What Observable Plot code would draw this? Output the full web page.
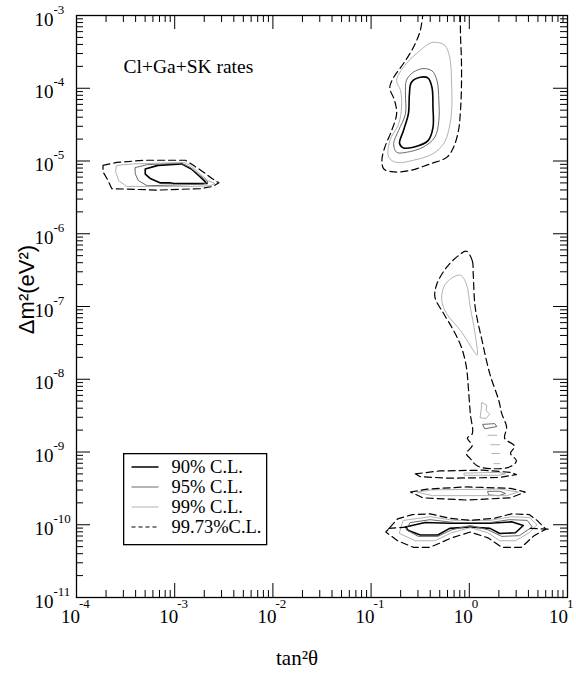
<!DOCTYPE html>
<html><head><meta charset="utf-8">
<script src="https://cdn.jsdelivr.net/npm/d3@7"></script>
<script src="https://cdn.jsdelivr.net/npm/@observablehq/plot@0.6"></script>
<style>
body{margin:0;background:#fff;}
#wrap{position:relative;width:576px;height:674px;overflow:hidden;}
#legend{position:absolute;left:123px;top:453px;}
</style></head><body><div id="wrap"></div>
<script>
// ---- tick / label data ----
const xDecades = [-4, -3, -2, -1, 0, 1];
const yDecades = [-11, -10, -9, -8, -7, -6, -5, -4, -3];
const levelNames = ["90% C.L.", "95% C.L.", "99% C.L.", "99.73%C.L."];
const titleText = "Cl+Ga+SK rates";
const xTitle = "tan\u00B2\u03B8";
const yTitle = "\u0394m\u00B2(eV\u00B2)";

// ---- contour data: [log10 tan^2(theta), log10 dm^2] ----
// SMA region
const sma90 = [[-3.30,-5.11],[-3.17,-5.06],[-2.93,-5.04],[-2.83,-5.11],[-2.74,-5.22],[-2.67,-5.31],[-3.01,-5.31],[-3.05,-5.30],[-3.15,-5.30],[-3.25,-5.24],[-3.30,-5.18]];
const sma95 = [[-3.40,-5.09],[-3.28,-5.05],[-2.93,-5.03],[-2.84,-5.09],[-2.74,-5.20],[-2.66,-5.29],[-2.71,-5.32],[-3.28,-5.34],[-3.37,-5.27],[-3.40,-5.18]];
const sma99 = [[-3.59,-5.06],[-3.42,-5.04],[-2.91,-5.02],[-2.84,-5.06],[-2.74,-5.18],[-2.66,-5.27],[-2.59,-5.31],[-2.64,-5.34],[-2.84,-5.35],[-3.49,-5.35],[-3.57,-5.27],[-3.60,-5.15]];
const sma9973 = [[-3.73,-5.06],[-3.59,-5.02],[-3.32,-4.99],[-2.89,-4.99],[-2.81,-5.06],[-2.71,-5.15],[-2.62,-5.24],[-2.55,-5.30],[-2.61,-5.35],[-2.74,-5.38],[-3.18,-5.40],[-3.64,-5.38],[-3.69,-5.24],[-3.73,-5.15]];
// LMA region
const lma90 = [[-0.50,-3.85],[-0.42,-3.86],[-0.38,-3.99],[-0.37,-4.26],[-0.37,-4.54],[-0.42,-4.72],[-0.57,-4.81],[-0.67,-4.82],[-0.71,-4.76],[-0.67,-4.58],[-0.62,-4.35],[-0.61,-4.08],[-0.59,-3.92]];
const lma95 = [[-0.47,-3.73],[-0.38,-3.76],[-0.33,-3.89],[-0.31,-4.17],[-0.31,-4.44],[-0.35,-4.67],[-0.47,-4.81],[-0.64,-4.88],[-0.74,-4.88],[-0.77,-4.76],[-0.72,-4.58],[-0.65,-4.35],[-0.65,-4.08],[-0.64,-3.89],[-0.57,-3.78]];
const lma99 = [[-0.33,-3.37],[-0.25,-3.41],[-0.20,-3.57],[-0.18,-3.94],[-0.18,-4.31],[-0.21,-4.58],[-0.26,-4.76],[-0.37,-4.90],[-0.57,-4.99],[-0.74,-5.02],[-0.82,-4.95],[-0.81,-4.72],[-0.72,-4.49],[-0.69,-4.26],[-0.70,-4.03],[-0.74,-3.89],[-0.64,-3.66],[-0.50,-3.48],[-0.40,-3.38]];
const lma9973 = [[-0.47,-2.95],[-0.50,-3.21],[-0.57,-3.44],[-0.67,-3.66],[-0.77,-3.85],[-0.81,-3.99],[-0.76,-4.17],[-0.74,-4.35],[-0.79,-4.58],[-0.86,-4.81],[-0.89,-4.99],[-0.87,-5.11],[-0.77,-5.15],[-0.60,-5.13],[-0.40,-5.04],[-0.23,-4.95],[-0.16,-4.81],[-0.11,-4.58],[-0.09,-4.31],[-0.08,-3.99],[-0.08,-3.62],[-0.09,-3.25],[-0.09,-2.95]];
// LOW region
const low99 = [[-0.09,-6.57],[-0.03,-6.69],[0.01,-7.01],[0.06,-7.38],[0.08,-7.67],[0.04,-7.60],[-0.09,-7.33],[-0.23,-7.10],[-0.28,-6.92],[-0.26,-6.73],[-0.18,-6.61]];
const low9973 = [[-0.03,-6.24],[0.03,-6.37],[0.04,-6.55],[0.06,-7.01],[0.13,-7.47],[0.21,-7.93],[0.30,-8.29],[0.33,-8.47],[0.38,-8.66],[0.36,-8.81],[0.46,-8.92],[0.42,-9.02],[0.48,-9.12],[0.42,-9.20],[0.24,-9.23],[0.08,-9.19],[0.01,-9.09],[-0.03,-9.02],[0.03,-8.91],[-0.02,-8.81],[0.03,-8.75],[0.01,-8.47],[-0.01,-8.11],[-0.03,-7.83],[-0.08,-7.56],[-0.16,-7.33],[-0.26,-7.10],[-0.35,-6.87],[-0.33,-6.69],[-0.23,-6.46],[-0.11,-6.30]];
const lowIsland99 = [[0.13,-8.32],[0.18,-8.36],[0.17,-8.43],[0.21,-8.48],[0.17,-8.54],[0.11,-8.53],[0.12,-8.43]];
const lowIsland95 = [[0.14,-8.62],[0.26,-8.61],[0.28,-8.65],[0.16,-8.68]];
const lowBits99 = [[[0.19,-8.77],[0.28,-8.77]],[[0.22,-8.90],[0.31,-8.90]],[[0.23,-9.02],[0.31,-9.02]],[[0.25,-9.16],[0.31,-9.16]]];
// bands near 5e-10 and 3e-10
const band1_99 = [[-0.05,-9.29],[0.30,-9.28],[0.37,-9.30],[0.30,-9.32],[-0.05,-9.32]];
const band1_9973 = [[-0.55,-9.30],[-0.30,-9.26],[0.14,-9.25],[0.42,-9.28],[0.48,-9.31],[0.31,-9.35],[-0.20,-9.36],[-0.50,-9.34]];
const band2_95 = [[0.19,-9.54],[0.31,-9.54],[0.37,-9.57],[0.30,-9.60],[0.20,-9.59]];
const band2_99 = [[-0.53,-9.55],[-0.37,-9.52],[0.31,-9.51],[0.50,-9.55],[0.38,-9.60],[-0.37,-9.60]];
const band2_9973 = [[-0.60,-9.55],[-0.43,-9.51],[-0.03,-9.48],[0.42,-9.50],[0.57,-9.55],[0.42,-9.63],[-0.03,-9.66],[-0.47,-9.63]];
// region near 1e-10
const vac90 = [[-0.65,-10.03],[-0.45,-9.97],[-0.20,-9.98],[0.21,-9.98],[0.43,-9.96],[0.55,-10.01],[0.47,-10.11],[0.31,-10.12],[0.21,-10.05],[0.01,-10.03],[-0.20,-10.05],[-0.32,-10.14],[-0.50,-10.14],[-0.62,-10.08]];
const vac95 = [[-0.60,-9.97],[-0.40,-9.93],[-0.15,-9.97],[0.21,-9.97],[0.41,-9.93],[0.59,-9.94],[0.64,-10.03],[0.51,-10.15],[0.33,-10.16],[0.19,-10.07],[0.01,-10.01],[-0.18,-10.07],[-0.32,-10.16],[-0.52,-10.16],[-0.64,-10.07]];
const vac99 = [[-0.67,-9.94],[-0.40,-9.89],[-0.15,-9.94],[0.21,-9.94],[0.43,-9.89],[0.61,-9.90],[0.69,-10.00],[0.61,-10.11],[0.47,-10.22],[0.31,-10.22],[0.19,-10.11],[0.01,-10.04],[-0.18,-10.11],[-0.35,-10.22],[-0.55,-10.22],[-0.71,-10.12]];
const vac9973 = [[-0.81,-10.04],[-0.73,-9.92],[-0.58,-9.86],[-0.40,-9.85],[-0.20,-9.91],[0.01,-9.94],[0.26,-9.91],[0.43,-9.85],[0.61,-9.86],[0.69,-9.94],[0.78,-10.06],[0.66,-10.15],[0.53,-10.31],[0.33,-10.31],[0.19,-10.18],[0.01,-10.10],[-0.18,-10.18],[-0.40,-10.31],[-0.57,-10.31],[-0.73,-10.22],[-0.85,-10.10]];
const vacBits9973 = [[[-0.82,-10.05],[-0.62,-10.03]],[[0.62,-10.05],[0.82,-10.06]]];

// ---- grouping ----
const smoothClosed = [
  [lma90],
  [lma95],
  [lma99, low99],
  [low9973]
];
const plainClosed = [
  [sma90, vac90],
  [sma95, lowIsland95, band2_95, vac95],
  [sma99, lowIsland99, band1_99, band2_99, vac99],
  [sma9973, band1_9973, band2_9973, vac9973]
];
const openByLevel = [[], [], lowBits99, vacBits9973];
const smoothOpen = [[], [], [], [lma9973]];

const styles = [
  {stroke: "#000", strokeWidth: 1.6},
  {stroke: "#6a6a6a", strokeWidth: 1},
  {stroke: "#b2b2b2", strokeWidth: 1},
  {stroke: "#000", strokeWidth: 1.2, strokeDasharray: "7,4"}
];
const legendDash = [null, null, null, "4,3"];

function toRows(list) {
  return list.flatMap((pts, i) => pts.map(([a, b]) => ({id: i, x: 10 ** a, y: 10 ** b})));
}

const W = 576, H = 674, mL = 76, mR = 9, mT = 15, mB = 77;
const fw = W - mL - mR, fh = H - mT - mB;
const serif = '"Liberation Serif","Times New Roman",serif';
const sans = '"Liberation Sans",Arial,sans-serif';
const isDecade = v => Math.abs(Math.log10(v) - Math.round(Math.log10(v))) < 1e-6;
const xMajor = xDecades.map(d => 10 ** d);
const yMajor = yDecades.map(d => 10 ** d);
const xMinor = d3.scaleLog().domain([1e-4, 10]).ticks().filter(v => !isDecade(v));
const yMinor = d3.scaleLog().domain([1e-11, 1e-3]).ticks().filter(v => !isDecade(v));
const xInner = xDecades.slice(0, -1), xLast = xDecades.slice(-1);

const contourMarks = [];
styles.forEach((s, k) => {
  const common = {x: "x", y: "y", z: "id", strokeLinejoin: "round", clip: true, ...s};
  if (smoothClosed[k].length) contourMarks.push(Plot.line(toRows(smoothClosed[k]), {...common, curve: "catmull-rom-closed"}));
  if (plainClosed[k].length) contourMarks.push(Plot.line(toRows(plainClosed[k]), {...common, curve: "linear-closed"}));
  if (openByLevel[k].length) contourMarks.push(Plot.line(toRows(openByLevel[k]), {...common, curve: "linear"}));
  if (smoothOpen[k].length) contourMarks.push(Plot.line(toRows(smoothOpen[k]), {...common, curve: "catmull-rom"}));
});

const tf = {fontFamily: serif, fill: "#000", lineAnchor: "middle"};
const xLabel = (arr, shift) => [
  Plot.text(arr, {x: d => 10 ** d, text: () => "10", frameAnchor: "bottom", textAnchor: "end", dx: 3.5 + shift, dy: 19.5, fontSize: 19, ...tf}),
  Plot.text(arr, {x: d => 10 ** d, text: d => String(d), frameAnchor: "bottom", textAnchor: "start", dx: 2.5 + shift, dy: 6.5, fontSize: 13, ...tf})
];

const chart = Plot.plot({
  width: W, height: H,
  marginLeft: mL, marginRight: mR, marginTop: mT, marginBottom: mB,
  x: {type: "log", domain: [1e-4, 10], axis: null},
  y: {type: "log", domain: [1e-11, 1e-3], axis: null},
  style: {background: "#fff", overflow: "visible"},
  marks: [
    ...contourMarks,
    // ticks, inward on all four sides
    Plot.ruleX(xMajor, {x: d => d, insetTop: fh - 14, stroke: "#000"}),
    Plot.ruleX(xMajor, {x: d => d, insetBottom: fh - 14, stroke: "#000"}),
    Plot.ruleX(xMinor, {x: d => d, insetTop: fh - 7, stroke: "#000"}),
    Plot.ruleX(xMinor, {x: d => d, insetBottom: fh - 7, stroke: "#000"}),
    Plot.ruleY(yMajor, {y: d => d, insetRight: fw - 14, stroke: "#000"}),
    Plot.ruleY(yMajor, {y: d => d, insetLeft: fw - 14, stroke: "#000"}),
    Plot.ruleY(yMinor, {y: d => d, insetRight: fw - 7, stroke: "#000"}),
    Plot.ruleY(yMinor, {y: d => d, insetLeft: fw - 7, stroke: "#000"}),
    Plot.frame({stroke: "#000", strokeWidth: 1.3}),
    // tick labels
    ...xLabel(xInner, 0),
    ...xLabel(xLast, -3),
    Plot.text(yDecades, {y: d => 10 ** d, text: () => "10", frameAnchor: "left", textAnchor: "end", dx: -23, dy: 4, fontSize: 19, ...tf}),
    Plot.text(yDecades, {y: d => 10 ** d, text: d => String(d), frameAnchor: "left", textAnchor: "start", dx: -23, dy: -6, fontSize: 13, ...tf}),
    // titles
    Plot.text([xTitle], {text: d => d, frameAnchor: "bottom", textAnchor: "middle", dx: -25, dy: 61, fontSize: 21, ...tf}),
    Plot.text([yTitle], {text: d => d, frameAnchor: "left", textAnchor: "middle", rotate: -90, dx: -50, dy: -17, fontSize: 22, fontFamily: sans, fill: "#000", lineAnchor: "middle"}),
    Plot.text([titleText], {text: d => d, frameAnchor: "top-left", textAnchor: "start", dx: 47, dy: 51, fontSize: 19.5, ...tf})
  ]
});

const wrap = document.getElementById("wrap");
wrap.appendChild(chart);

// legend overlay inside the plot area
const lg = d3.create("svg").attr("id", "legend").attr("width", 145).attr("height", 93);
lg.append("rect").attr("x", 0.65).attr("y", 0.65).attr("width", 143).attr("height", 91)
  .attr("fill", "#fff").attr("stroke", "#000").attr("stroke-width", 1.3);
levelNames.forEach((name, i) => {
  const s = styles[i];
  const ly = 14 + 20 * i;
  lg.append("line").attr("x1", 8.5).attr("x2", 35.5).attr("y1", ly).attr("y2", ly)
    .attr("stroke", s.stroke).attr("stroke-width", s.strokeWidth === 1.6 ? 1.5 : s.strokeWidth)
    .attr("stroke-dasharray", legendDash[i]);
  lg.append("text").attr("x", 48.5).attr("y", ly + 5.5).attr("font-family", serif).attr("font-size", 18.5)
    .attr("fill", "#000").text(name);
});
wrap.appendChild(lg.node());
</script>
</body></html>
